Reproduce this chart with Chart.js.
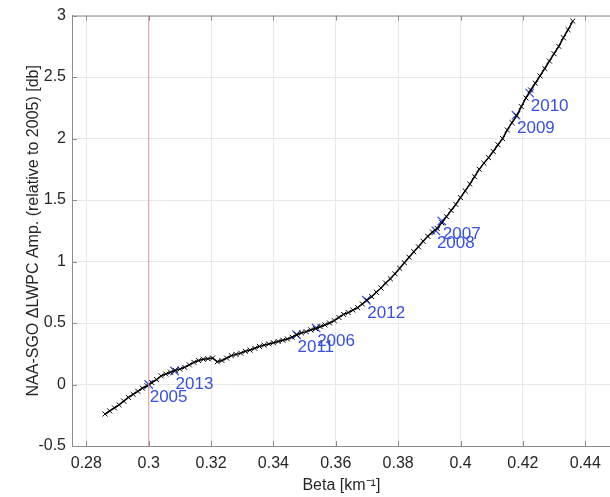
<!DOCTYPE html>
<html>
<head>
<meta charset="utf-8">
<script src="https://cdn.jsdelivr.net/npm/chart.js@4"></script>
<style>
  html, body { margin: 0; padding: 0; background: #fff; overflow: hidden; }
  #wrap { width: 610px; height: 497px; overflow: hidden; }
</style>
</head>
<body>
<div id="wrap"><canvas id="myChart" width="618" height="497"></canvas></div>
<script>
// curve values
const betaVals = [
  0.2860, 0.2875, 0.2890, 0.2905, 0.2920, 0.2935, 0.2950, 0.2965, 0.2980, 0.2995,
  0.3010, 0.3025, 0.3040, 0.3055, 0.3070, 0.3085, 0.3100, 0.3115, 0.3130, 0.3145,
  0.3160, 0.3175, 0.3190, 0.3205, 0.3220, 0.3235, 0.3250, 0.3265, 0.3280, 0.3295,
  0.3310, 0.3325, 0.3340, 0.3355, 0.3370, 0.3385, 0.3400, 0.3415, 0.3430, 0.3445,
  0.3460, 0.3475, 0.3490, 0.3505, 0.3520, 0.3535, 0.3550, 0.3565, 0.3580, 0.3595,
  0.3610, 0.3625, 0.3640, 0.3655, 0.3670, 0.3685, 0.3700, 0.3715, 0.3730, 0.3745,
  0.3760, 0.3775, 0.3790, 0.3805, 0.3820, 0.3835, 0.3850, 0.3865, 0.3880, 0.3895,
  0.3910, 0.3925, 0.3940, 0.3955, 0.3970, 0.3985, 0.4000, 0.4015, 0.4030, 0.4045,
  0.4060, 0.4075, 0.4090, 0.4105, 0.4120, 0.4135, 0.4150, 0.4165, 0.4180, 0.4195,
  0.4210, 0.4225, 0.4240, 0.4255, 0.4270, 0.4285, 0.4300, 0.4315, 0.4330, 0.4345,
  0.4360
];
const ampVals = [
  -0.24, -0.215, -0.19, -0.165, -0.135, -0.105, -0.08, -0.055, -0.03, -0.01,
  0.015, 0.04, 0.07, 0.085, 0.10, 0.115, 0.125, 0.14, 0.16, 0.18,
  0.195, 0.205, 0.21, 0.215, 0.185, 0.195, 0.215, 0.235, 0.245, 0.255,
  0.27, 0.28, 0.295, 0.31, 0.32, 0.33, 0.34, 0.35, 0.36, 0.37,
  0.385, 0.405, 0.42, 0.43, 0.445, 0.455, 0.47, 0.485, 0.50, 0.52,
  0.545, 0.57, 0.585, 0.605, 0.625, 0.655, 0.685, 0.715, 0.75, 0.785,
  0.825, 0.86, 0.90, 0.945, 0.99, 1.035, 1.08, 1.12, 1.165, 1.205,
  1.24, 1.27, 1.315, 1.365, 1.415, 1.465, 1.52, 1.575, 1.63, 1.69,
  1.75, 1.80, 1.845, 1.895, 1.95, 2.00, 2.07, 2.13, 2.185, 2.26,
  2.33, 2.395, 2.45, 2.51, 2.57, 2.63, 2.69, 2.75, 2.82, 2.885,
  2.955
];

// labelled years
const years     = ['2005', '2013', '2011', '2006', '2012', '2008', '2007', '2009', '2010'];
const yearBeta  = [0.3000, 0.3083, 0.3474, 0.3537, 0.3698, 0.3921, 0.3940, 0.4178, 0.4222];
const yearAmp   = [0.00, 0.11, 0.405, 0.46, 0.685, 1.25, 1.33, 2.19, 2.37];

const refBeta = 0.3;
const xTicks = [0.28, 0.30, 0.32, 0.34, 0.36, 0.38, 0.40, 0.42, 0.44];
const yTicks = [-0.5, 0, 0.5, 1, 1.5, 2, 2.5, 3];

const blue = 'rgb(55,80,225)';
const axisGray = '#8c8c8c';
const textCol = '#262626';
const fam = '"Liberation Sans", Arial, sans-serif';

const ctx = document.getElementById('myChart');

const yearLabels = {
  id: 'yearLabels',
  afterDatasetsDraw(chart) {
    const meta = chart.getDatasetMeta(2);
    const c = chart.ctx;
    c.save();
    c.fillStyle = blue;
    c.font = '17px ' + fam;
    c.textAlign = 'left';
    c.textBaseline = 'middle';
    meta.data.forEach((pt, i) => {
      c.fillText(years[i], pt.x + 1, pt.y + 13);
    });
    c.restore();
  }
};

// top border with inward ticks, like the matlab box
const topBox = {
  id: 'topBox',
  afterDraw(chart) {
    const a = chart.chartArea;
    const xs = chart.scales.x;
    const c = chart.ctx;
    c.save();
    c.strokeStyle = axisGray;
    c.lineWidth = 1;
    c.beginPath();
    c.moveTo(a.left, a.top + 0.5);
    c.lineTo(a.right, a.top + 0.5);
    xTicks.forEach(v => {
      const px = Math.round(xs.getPixelForValue(v)) + 0.5;
      c.moveTo(px, a.top);
      c.lineTo(px, a.top + 5);
      c.moveTo(px, a.bottom);
      c.lineTo(px, a.bottom - 5);
    });
    const ys = chart.scales.y;
    yTicks.forEach(v => {
      const py = Math.round(ys.getPixelForValue(v)) + 0.5;
      c.moveTo(a.left, py);
      c.lineTo(a.left + 5, py);
    });
    c.stroke();
    c.restore();
  }
};

new Chart(ctx, {
  type: 'scatter',
  data: {
    datasets: [
      {
        label: 'ref',
        data: [{x: refBeta, y: -0.5}, {x: refBeta, y: 3}],
        showLine: true,
        borderColor: 'rgb(232,150,160)',
        borderWidth: 1,
        pointRadius: 0
      },
      {
        label: 'curve',
        data: betaVals.map((b, i) => ({x: b, y: ampVals[i]})),
        showLine: true,
        borderColor: '#000',
        borderWidth: 1.5,
        pointStyle: 'crossRot',
        pointRadius: 3.5,
        pointBorderColor: '#000',
        pointBorderWidth: 1,
        pointHoverRadius: 3.5
      },
      {
        label: 'years',
        data: yearBeta.map((b, i) => ({x: b, y: yearAmp[i]})),
        showLine: false,
        pointStyle: 'crossRot',
        pointRadius: 6,
        pointBorderColor: blue,
        pointBorderWidth: 1.2,
        pointBackgroundColor: blue
      }
    ]
  },
  options: {
    responsive: false,
    animation: false,
    layout: { padding: { left: 24, right: 0, top: 15, bottom: 0 } },
    plugins: {
      legend: { display: false },
      tooltip: { enabled: false }
    },
    scales: {
      x: {
        type: 'linear',
        min: 0.2754,
        max: 0.4482,
        afterBuildTicks: s => { s.ticks = xTicks.map(v => ({value: v})); },
        afterFit: s => { s.height = 51; },
        grid: { color: '#e8e8e8', drawTicks: false, lineWidth: 1 },
        border: { color: axisGray, width: 1 },
        ticks: {
          color: textCol,
          padding: 8,
          maxRotation: 0,
          font: { size: 16, family: fam },
          callback: v => String(Math.round(v * 100) / 100)
        },
        title: {
          display: true,
          text: 'Beta [km\u207B\u00B9]',
          color: textCol,
          padding: { top: 0, bottom: 2 },
          font: { size: 16, family: fam }
        }
      },
      y: {
        type: 'linear',
        min: -0.5,
        max: 3,
        afterBuildTicks: s => { s.ticks = yTicks.map(v => ({value: v})); },
        afterFit: s => { s.width = 48; },
        grid: { color: '#e8e8e8', drawTicks: false, lineWidth: 1 },
        border: { color: axisGray, width: 1 },
        ticks: {
          color: textCol,
          padding: 6,
          font: { size: 16, family: fam },
          callback: v => String(v)
        },
        title: {
          display: true,
          text: 'NAA-SGO \u0394LWPC Amp. (relative to 2005) [db]',
          color: textCol,
          padding: { top: 0, bottom: 4 },
          font: { size: 16, family: fam }
        }
      }
    }
  },
  plugins: [yearLabels, topBox]
});
</script>
</body>
</html>
